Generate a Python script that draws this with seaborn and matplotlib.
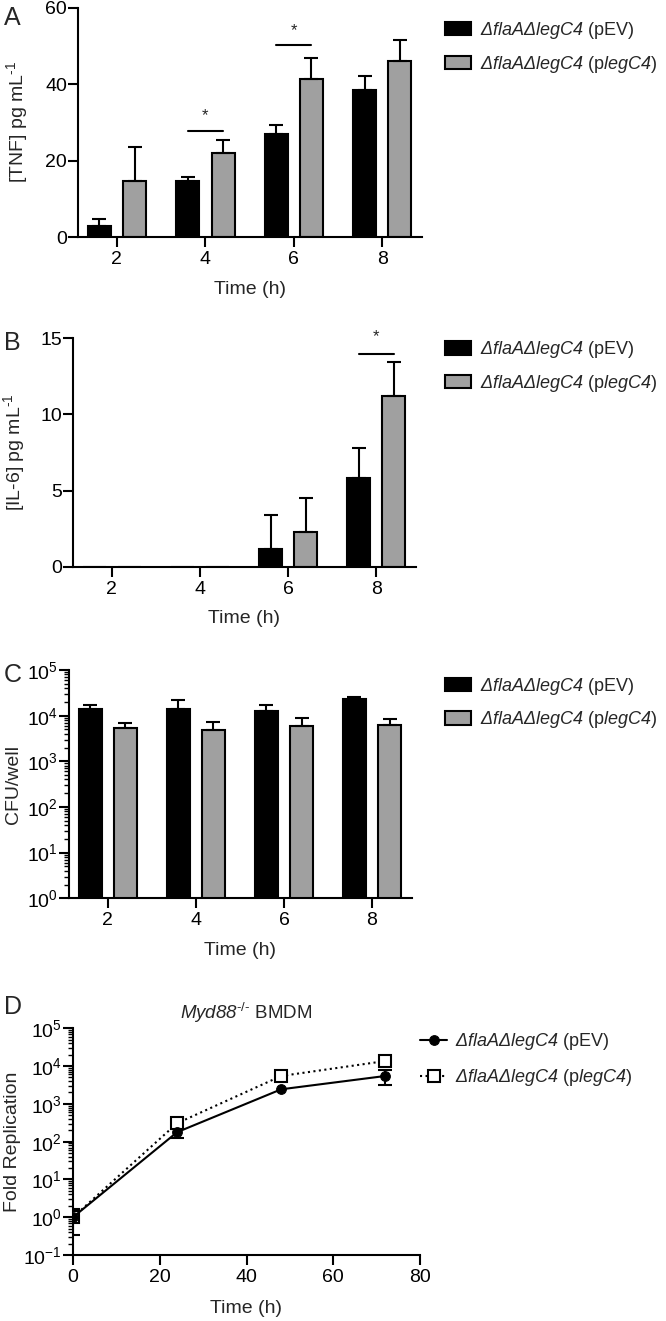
import numpy as np
import pandas as pd
import matplotlib
matplotlib.use("Agg")
import matplotlib.pyplot as plt
import seaborn as sns
from matplotlib.ticker import LogLocator, NullFormatter

# ---------------- data ----------------
times = ["2", "4", "6", "8"]

tnf_pev = [3.0, 14.7, 27.1, 38.5]
tnf_pev_sd = [1.8, 1.1, 2.2, 3.6]
tnf_leg = [14.7, 21.9, 41.4, 46.1]
tnf_leg_sd = [8.9, 3.5, 5.5, 5.5]

il6_pev = [0.0, 0.0, 1.16, 5.81]
il6_pev_sd = [0.0, 0.0, 2.24, 1.97]
il6_leg = [0.0, 0.0, 2.3, 11.24]
il6_leg_sd = [0.0, 0.0, 2.19, 2.19]

cfu_pev = [1.40e4, 1.40e4, 1.26e4, 2.28e4]
cfu_pev_sd = [3.1e3, 8.0e3, 4.5e3, 3.2e3]
cfu_leg = [5.3e3, 4.85e3, 6.0e3, 6.25e3]
cfu_leg_sd = [1.5e3, 2.35e3, 3.0e3, 2.05e3]

hours = [0, 24, 48, 72]
fold_pev = [1.0, 178, 2430, 5470]
fold_pev_sd = [0.66, 50, 0, 2300]
fold_leg = [1.0, 307, 5470, 13600]

# \mathsf is mapped to the italic face below (keeps digits and Greek italic)
lab_pev = r"$\mathsf{\Delta flaA\Delta legC4}$ (pEV)"
lab_leg = r"$\mathsf{\Delta flaA\Delta legC4}$ (p$\mathsf{legC4}$)"

# ---------------- style ----------------
sns.set_theme(style="ticks")
plt.rcParams["font.family"] = ["Liberation Sans", "DejaVu Sans"]
plt.rcParams["mathtext.fontset"] = "custom"
plt.rcParams["mathtext.rm"] = "Liberation Sans"
plt.rcParams["mathtext.it"] = "Liberation Sans:italic"
plt.rcParams["mathtext.sf"] = "Liberation Sans:italic"
plt.rcParams["mathtext.bf"] = "Liberation Sans:bold"
plt.rcParams["mathtext.default"] = "regular"

BLACK = "#000000"
GREY = "#a0a0a0"
W, H = 666, 1321

fig = plt.figure(figsize=(W / 100, H / 100), dpi=100)


def rect(left, right, top, bottom):
    return [left / W, 1 - bottom / H, (right - left) / W, (bottom - top) / H]


def style_axes(ax):
    sns.despine(ax=ax)
    for s in ["left", "bottom"]:
        ax.spines[s].set_linewidth(1.5)
        ax.spines[s].set_color("black")
    ax.tick_params(axis="both", which="major", length=7, width=1.5,
                   labelsize=14, color="black", labelcolor="black")
    ax.tick_params(axis="y", which="major", pad=1)
    ax.tick_params(axis="x", which="major", pad=3)
    ax.tick_params(axis="y", which="minor", length=3.5, width=1.0, color="black")
    ax.grid(False)


def bar_panel(ax, pev, pev_sd, leg, leg_sd, log=False):
    df = pd.DataFrame({
        "Time": times * 2,
        "val": pev + leg,
        "grp": [lab_pev] * len(times) + [lab_leg] * len(times),
    })
    sns.barplot(data=df, x="Time", y="val", hue="grp", hue_order=[lab_pev, lab_leg],
                palette=[BLACK, GREY], width=0.8, gap=0.35, edgecolor="black",
                linewidth=1.5, errorbar=None, ax=ax, log_scale=(True if log else None),
                saturation=1)
    for cont, vals, sds in zip(ax.containers, [pev, leg], [pev_sd, leg_sd]):
        for bar, v, sd in zip(cont, vals, sds):
            if sd > 0:
                x = bar.get_x() + bar.get_width() / 2
                ax.errorbar([x], [v], yerr=[[0], [sd]], fmt="none", ecolor="black",
                            elinewidth=1.5, capsize=5, capthick=1.5, zorder=1)
    ax.set_xlim(-0.44, 3.45)
    style_axes(ax)
    ax.set_xlabel("Time (h)", fontsize=14)
    ax.xaxis.set_label_coords(0.5, -0.19)
    return ax


def add_legend(ax, left_px, mid_px, **kw):
    handles, labels = ax.get_legend_handles_labels()
    if ax.get_legend() is not None:
        ax.get_legend().remove()
    ax.legend(handles, labels, loc="center left",
              bbox_to_anchor=(left_px / W, 1 - mid_px / H), bbox_transform=fig.transFigure,
              frameon=False, fontsize=13, borderpad=0, borderaxespad=0, **kw)


def sig(ax, cont_idx, y_line, y_star):
    b0 = ax.containers[0][cont_idx]
    b1 = ax.containers[1][cont_idx]
    x0 = b0.get_x() + b0.get_width() / 2
    x1 = b1.get_x() + b1.get_width() / 2
    ax.plot([x0, x1], [y_line, y_line], color="black", lw=1.5, clip_on=False)
    ax.text((x0 + x1) / 2, y_star, "*", ha="center", va="center", fontsize=12, clip_on=False)


SUP = r"$^{\text{-}1}$"

# ---------------- Panel A ----------------
axA = fig.add_axes(rect(78, 422, 8, 237))
bar_panel(axA, tnf_pev, tnf_pev_sd, tnf_leg, tnf_leg_sd)
axA.set_ylim(0, 60)
axA.set_yticks([0, 20, 40, 60])
axA.set_ylabel("[TNF] pg mL" + SUP, fontsize=14)
axA.yaxis.set_label_coords(-0.14, 0.5)
sig(axA, 1, 27.7, 31.7)
sig(axA, 2, 50.3, 54.0)
add_legend(axA, 445, 47.5, handlelength=1.45, handleheight=0.75, handletextpad=0.5,
           labelspacing=0.7)

# ---------------- Panel B ----------------
axB = fig.add_axes(rect(73, 416, 338.3, 566.7))
bar_panel(axB, il6_pev, il6_pev_sd, il6_leg, il6_leg_sd)
axB.set_ylim(0, 15)
axB.set_yticks([0, 5, 10, 15])
axB.set_ylabel("[IL-6] pg mL" + SUP, fontsize=14)
axB.yaxis.set_label_coords(-0.135, 0.5)
sig(axB, 3, 14.0, 15.1)
add_legend(axB, 445, 366.7, handlelength=1.45, handleheight=0.75, handletextpad=0.5,
           labelspacing=0.7)

# ---------------- Panel C ----------------
axC = fig.add_axes(rect(69, 411.7, 670, 898.3))
bar_panel(axC, cfu_pev, cfu_pev_sd, cfu_leg, cfu_leg_sd, log=True)
axC.set_yscale("log")
axC.set_ylim(1, 1e5)
axC.yaxis.set_major_locator(LogLocator(base=10, numticks=10))
axC.yaxis.set_minor_locator(LogLocator(base=10, subs=np.arange(2, 10), numticks=20))
axC.yaxis.set_minor_formatter(NullFormatter())
axC.set_ylabel("CFU/well", fontsize=14)
axC.yaxis.set_label_coords(-0.137, 0.5)
add_legend(axC, 445, 703, handlelength=1.45, handleheight=0.75, handletextpad=0.5,
           labelspacing=0.7)

# ---------------- Panel D ----------------
axD = fig.add_axes(rect(73, 420, 1028.3, 1255))
sns.lineplot(x=hours, y=fold_leg, ax=axD, color="black", linestyle=":", lw=1.5,
             marker="s", markersize=8, markerfacecolor="white", markeredgecolor="black",
             markeredgewidth=1.5, label=lab_leg, zorder=3)
sns.lineplot(x=hours, y=fold_pev, ax=axD, color="black", linestyle="-", lw=1.5,
             marker="o", markersize=7, markerfacecolor="black", markeredgecolor="black",
             label=lab_pev, zorder=4)
for t, v, sd in zip(hours, fold_pev, fold_pev_sd):
    if sd > 0:
        axD.errorbar([t], [v], yerr=[[sd], [sd]], fmt="none", ecolor="black",
                     elinewidth=1.5, capsize=5, capthick=1.5, zorder=2)
axD.set_yscale("log")
axD.set_ylim(0.1, 1e5)
axD.set_xlim(0, 80)
axD.set_xticks([0, 20, 40, 60, 80])
axD.yaxis.set_major_locator(LogLocator(base=10, numticks=10))
axD.yaxis.set_minor_locator(LogLocator(base=10, subs=np.arange(2, 10), numticks=20))
axD.yaxis.set_minor_formatter(NullFormatter())
style_axes(axD)
axD.set_xlabel("Time (h)", fontsize=14)
axD.xaxis.set_label_coords(0.5, -0.2)
axD.set_ylabel("Fold Replication", fontsize=14)
axD.yaxis.set_label_coords(-0.15, 0.5)
axD.set_title(r"$\mathsf{Myd88}^{\text{-/-}}$ BMDM", fontsize=13.5, pad=7)
hD, lD = axD.get_legend_handles_labels()
order = [lD.index(lab_pev), lD.index(lab_leg)]
if axD.get_legend() is not None:
    axD.get_legend().remove()
axD.legend([hD[i] for i in order], [lD[i] for i in order], loc="center left",
           bbox_to_anchor=(420 / W, 1 - 1059.5 / H), bbox_transform=fig.transFigure,
           frameon=False, fontsize=13, borderpad=0, borderaxespad=0,
           handlelength=1.5, handletextpad=0.45, labelspacing=0.85, numpoints=1)

# ---------------- panel letters ----------------
for letter, top in [("A", 6), ("B", 331), ("C", 663), ("D", 995)]:
    fig.text(4 / W, 1 - top / H, letter, fontsize=18, ha="left", va="top")

fig.savefig("out.png", dpi=100)
